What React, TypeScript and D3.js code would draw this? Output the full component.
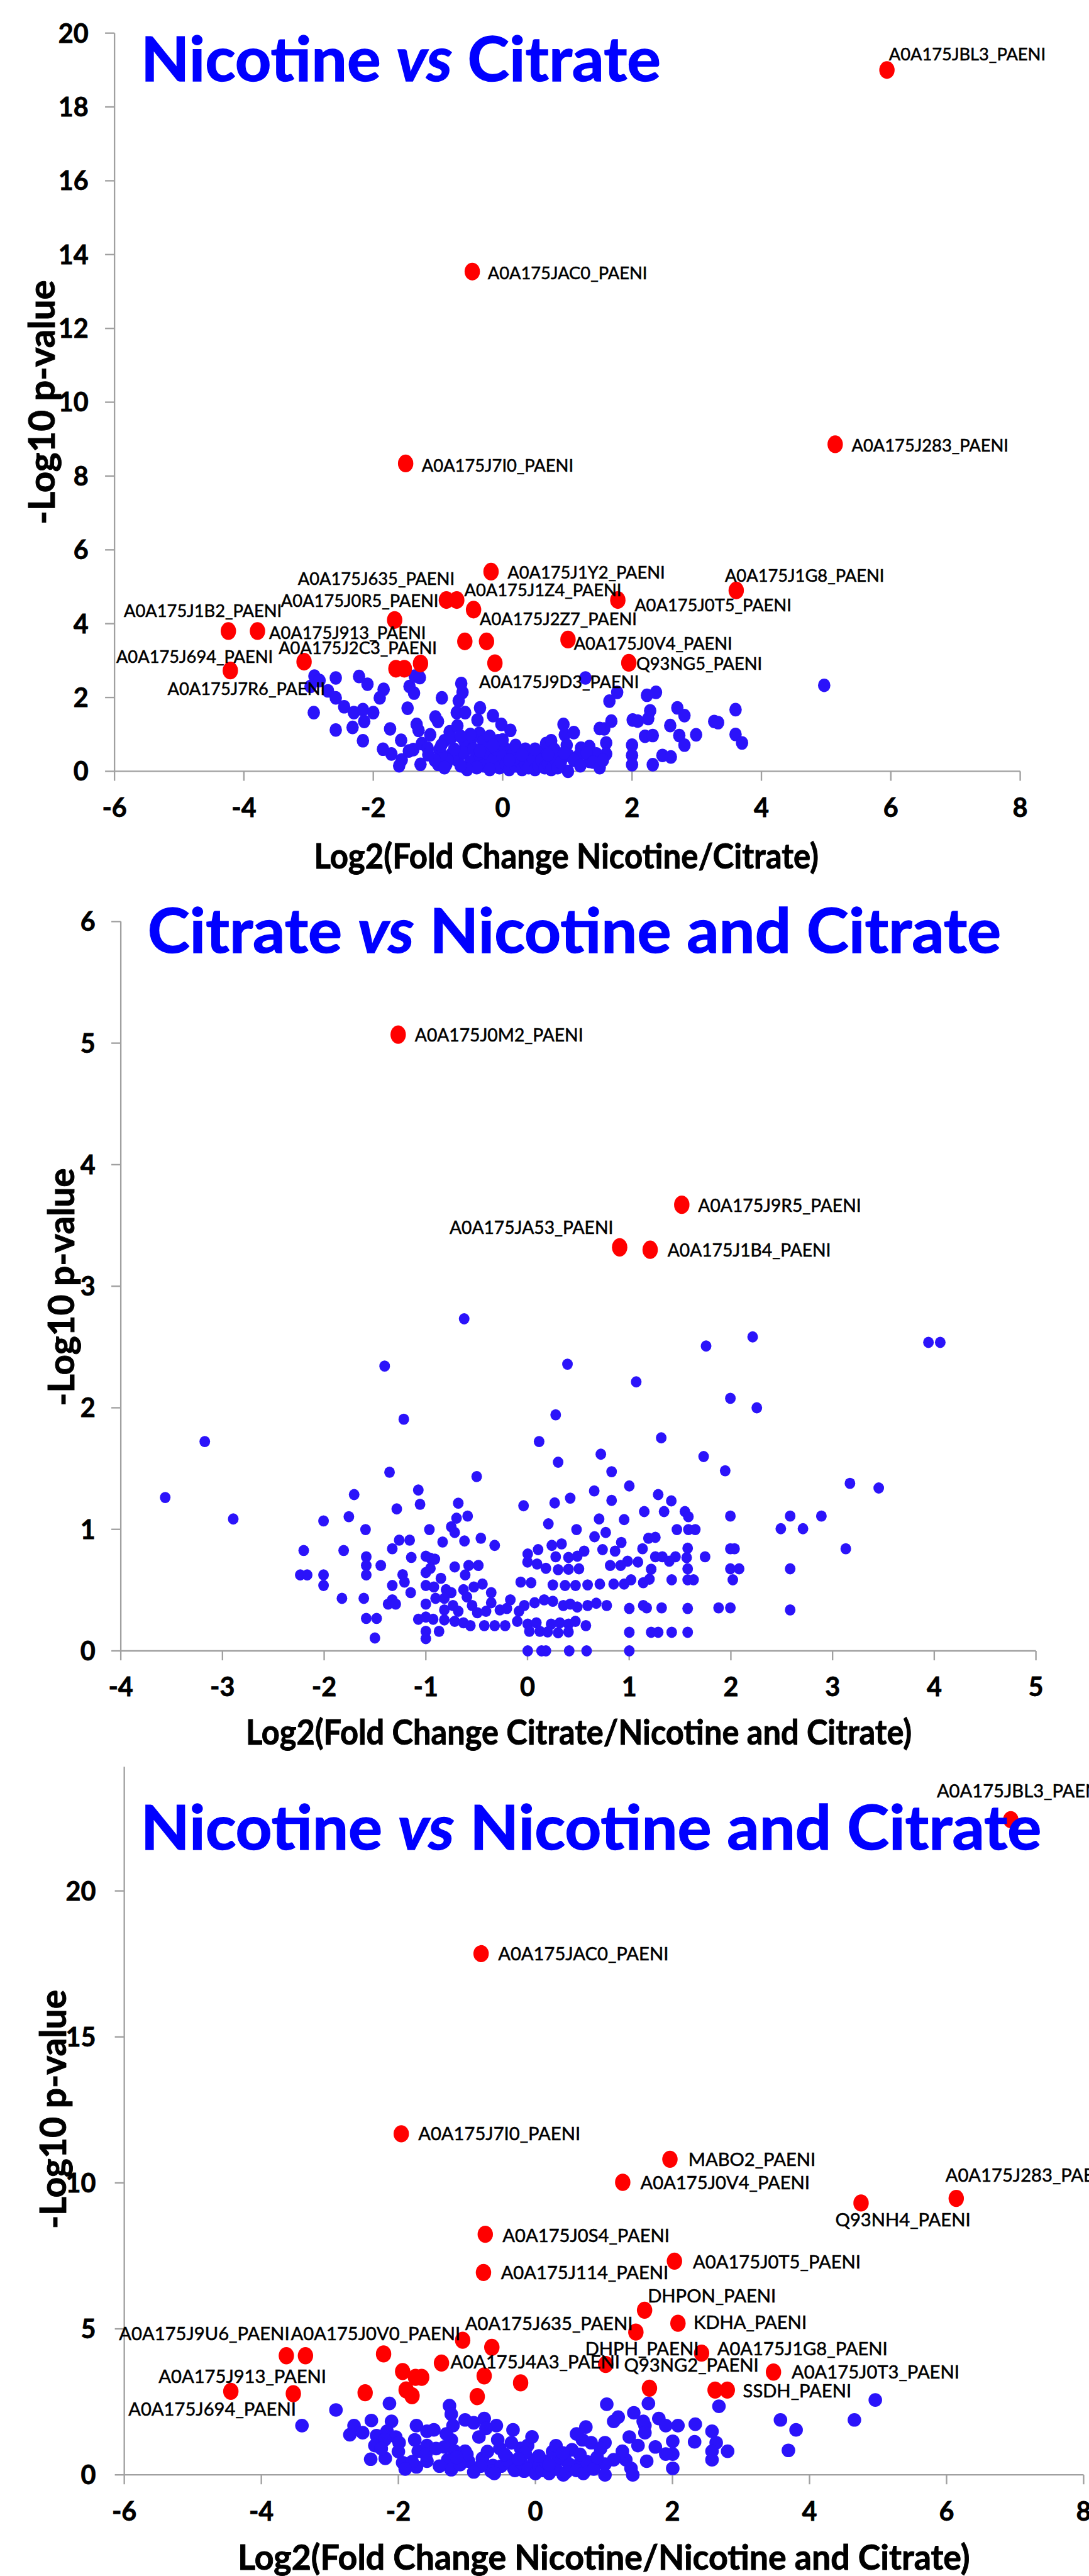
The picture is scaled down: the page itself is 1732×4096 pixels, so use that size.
import React from 'react';
import * as d3 from 'd3';

type Pt = [number, number];
type Lab = [string, number, number];

// ---------- Panel 1: Nicotine vs Citrate ----------
const p1XTicks = [-6, -4, -2, 0, 2, 4, 6, 8];
const p1YTicks = [0, 2, 4, 6, 8, 10, 12, 14, 16, 18, 20];

const p1Blue: Pt[] = [
  [-2.91, 2.58], [-2.83, 2.46], [-2.97, 2.3], [-2.7, 2.18], [-2.58, 2.53], [-2.58, 1.99], [-2.45, 1.75],
  [-2.92, 1.59], [-2.58, 1.12], [-2.22, 2.57], [-2.09, 2.36], [-1.84, 2.22], [-1.9, 1.99], [-2.3, 1.59],
  [-2.16, 1.67], [-2.0, 1.59], [-2.14, 1.35], [-2.32, 1.19], [-2.16, 0.83], [-1.74, 1.15], [-1.72, 0.47],
  [-1.57, 0.84], [-1.56, 0.31], [-1.47, 1.71], [-1.44, 2.3], [-1.37, 2.12], [-1.36, 2.58], [-1.28, 2.54],
  [-1.33, 1.27], [-1.3, 1.11], [-1.27, 0.19], [-1.38, 0.59], [-1.25, 0.75], [-1.12, 0.99], [-1.16, 0.63],
  [-1.04, 1.47], [-1.0, 1.35], [-0.94, 1.99], [-0.98, 0.59], [-1.0, 0.19], [-0.87, 0.19], [-0.9, 0.83],
  [-0.82, 1.07], [-0.71, 1.59], [-0.68, 1.91], [-0.64, 2.38], [-0.62, 2.14], [-0.58, 1.59], [-0.7, 1.23],
  [-0.58, 0.67], [-0.58, 0.11], [-0.74, 0.43], [-0.35, 1.72], [-0.39, 1.39], [-0.36, 1.03], [-0.47, 0.91],
  [-0.28, 0.75], [-0.42, 0.35], [-0.2, 0.51], [-0.15, 1.51], [-0.02, 1.27], [0.12, 1.11], [-0.07, 0.83],
  [0.06, 0.59], [0.04, 0.35], [0.28, 0.55], [0.39, 0.35], [0.52, 0.27], [0.6, 0.51], [0.67, 0.75],
  [-0.1, 0.23], [0.17, 0.27], [-0.26, 0.27],
  [1.28, 2.53], [1.77, 2.14], [1.65, 1.9], [2.23, 2.06], [2.37, 2.14], [4.97, 2.33], [2.7, 1.72],
  [2.81, 1.51], [2.28, 1.64], [2.25, 1.43], [3.6, 1.67], [2.01, 1.39], [2.09, 1.36], [1.68, 1.36],
  [1.57, 1.15], [1.5, 1.16], [2.59, 1.24], [3.27, 1.35], [3.33, 1.32], [2.99, 0.99], [3.6, 1.0],
  [3.7, 0.77], [2.73, 0.97], [2.81, 0.71], [2.2, 0.95], [2.32, 0.97], [2.0, 0.71], [2.0, 0.43],
  [2.0, 0.18], [2.47, 0.43], [2.6, 0.39], [2.32, 0.18], [1.6, 0.77], [1.6, 0.47], [1.34, 0.67],
  [1.21, 0.63], [1.34, 0.27], [1.18, 0.43], [1.45, 0.47], [0.94, 1.27], [0.96, 0.99], [1.1, 1.05],
  [0.99, 0.71], [0.75, 0.83], [0.8, 0.59], [1.02, 0.43], [1.01, 0.0], [0.8, 0.23], [0.67, 0.43], [0.88, 0.15],
  [-0.8, 0.45], [-0.7, 0.3], [-0.6, 0.5], [-0.5, 0.25], [-0.45, 0.6], [-0.35, 0.4], [-0.3, 0.15], [-0.25, 0.5],
  [-0.15, 0.3], [-0.1, 0.6], [-0.05, 0.1], [0.0, 0.4], [0.05, 0.2], [0.1, 0.05], [0.15, 0.45], [0.2, 0.15],
  [0.25, 0.3], [0.3, 0.05], [0.35, 0.2], [0.4, 0.1], [0.45, 0.4], [0.5, 0.05], [0.55, 0.15], [0.6, 0.3],
  [0.65, 0.1], [0.7, 0.2], [0.75, 0.05], [0.8, 0.35], [0.85, 0.1], [0.9, 0.25], [-0.2, 0.05], [-0.4, 0.1],
  [-0.55, 0.05], [-0.65, 0.15], [-0.75, 0.6], [-0.85, 0.3], [-0.95, 0.45], [-1.05, 0.3], [-0.9, 0.1],
  [1.1, 0.3], [1.2, 0.15], [1.3, 0.5], [1.4, 0.25], [1.5, 0.1], [1.55, 0.3], [-0.3, 0.8], [-0.2, 0.95],
  [0.0, 0.85], [0.2, 0.7], [0.35, 0.6], [-0.6, 0.85], [-0.5, 1.0], [-0.8, 0.9],
  [-0.95, 0.7], [-0.65, 0.95], [-0.35, 0.55], [-0.15, 0.7], [0.1, 0.3], [0.3, 0.45], [0.5, 0.6],
  [0.7, 0.45], [0.95, 0.5], [-1.15, 0.45], [-1.45, 0.55], [-1.6, 0.15], [-1.85, 0.6],
];

const p1Red: Pt[] = [
  [5.94, 19.0], [-0.47, 13.54], [5.14, 8.86], [-1.5, 8.34], [-0.18, 5.41], [3.61, 4.9], [-0.87, 4.64],
  [-0.71, 4.64], [1.78, 4.64], [-0.45, 4.38], [-1.67, 4.1], [-4.24, 3.8], [-3.79, 3.8], [-0.585, 3.52],
  [-0.25, 3.52], [1.01, 3.57], [-3.07, 2.97], [-4.21, 2.73], [-1.65, 2.78], [-1.52, 2.78], [-1.27, 2.92],
  [-0.12, 2.93], [1.95, 2.94],
];

const p1Labels: Lab[] = [
  ['A0A175JBL3_PAENI', 5.97, 19.27], ['A0A175JAC0_PAENI', -0.231, 13.33], ['A0A175J283_PAENI', 5.395, 8.66],
  ['A0A175J7I0_PAENI', -1.25, 8.125], ['A0A175J1Y2_PAENI', 0.075, 5.215], ['A0A175J1G8_PAENI', 3.435, 5.135],
  ['A0A175J635_PAENI', -3.166, 5.055], ['A0A175J1Z4_PAENI', -0.592, 4.736], ['A0A175J0R5_PAENI', -3.427, 4.457],
  ['A0A175J0T5_PAENI', 2.038, 4.343], ['A0A175J1B2_PAENI', -5.855, 4.178], ['A0A175J2Z7_PAENI', -0.354, 3.96],
  ['A0A175J913_PAENI', -3.61, 3.58], ['A0A175J0V4_PAENI', 1.1, 3.3], ['A0A175J2C3_PAENI', -3.463, 3.18],
  ['A0A175J694_PAENI', -5.973, 2.942], ['Q93NG5_PAENI', 2.065, 2.744], ['A0A175J9D3_PAENI', -0.364, 2.264],
  ['A0A175J7R6_PAENI', -5.18, 2.067],
];

// ---------- Panel 2: Citrate vs Nicotine and Citrate ----------
const p2XTicks = [-4, -3, -2, -1, 0, 1, 2, 3, 4, 5];
const p2YTicks = [0, 1, 2, 3, 4, 5, 6];

const p2Blue: Pt[] = [
  [-0.623, 2.732], [-1.405, 2.343], [-1.217, 1.906], [-3.174, 1.722], [0.114, 1.722], [-1.357, 1.47],
  [-0.5, 1.434], [-3.563, 1.262], [-1.705, 1.286], [-1.074, 1.323], [-1.057, 1.206], [-0.681, 1.215],
  [-0.039, 1.194], [-1.286, 1.168], [-2.894, 1.085], [-1.757, 1.104], [-0.698, 1.092], [-0.589, 1.109],
  [-2.006, 1.069], [-1.593, 0.998], [-0.965, 0.998], [-0.75, 1.021], [-0.716, 0.974], [-0.459, 0.927],
  [-1.262, 0.911], [-1.159, 0.911], [-0.835, 0.896], [-0.62, 0.904], [-0.323, 0.868], [-2.201, 0.826],
  [-1.808, 0.826], [-1.33, 0.84], [0.104, 0.833], [0.002, 0.797], [-1.586, 0.774], [-1.143, 0.769],
  [-1.0, 0.779], [-0.955, 0.762], [-0.911, 0.755], [-1.443, 0.703], [-0.716, 0.691], [-0.579, 0.703],
  [-0.484, 0.703], [0.0, 0.731], [0.094, 0.715], [-1.586, 0.703], [-0.955, 0.679], [-1.0, 0.644],
  [-1.586, 0.625], [-2.235, 0.625], [-2.167, 0.625], [-2.006, 0.625], [-1.228, 0.627], [-0.613, 0.625],
  [-0.852, 0.597], [-1.21, 0.566], [-2.006, 0.538], [-1.33, 0.538], [-1.0, 0.538], [-0.921, 0.526],
  [-0.801, 0.503], [-0.63, 0.503], [-0.528, 0.526], [-0.443, 0.55], [-0.067, 0.566], [0.035, 0.561],
  [-1.149, 0.479], [-0.75, 0.479], [-1.825, 0.432], [-1.61, 0.432], [-0.904, 0.432], [-0.818, 0.432],
  [-0.596, 0.444], [-0.357, 0.479], [-0.169, 0.42], [-0.357, 0.396], [-1.371, 0.385], [-1.33, 0.42],
  [-1.296, 0.385], [-1.0, 0.385], [-0.818, 0.337], [-0.733, 0.373], [-0.681, 0.326], [-0.545, 0.373],
  [-0.494, 0.314], [-0.408, 0.326], [-0.272, 0.337], [-0.203, 0.349], [-0.084, 0.326], [-0.032, 0.373],
  [0.07, 0.396], [-1.586, 0.267], [-1.484, 0.267], [-1.074, 0.26], [-1.0, 0.278], [-0.928, 0.26],
  [-0.818, 0.255], [-0.716, 0.243], [-0.63, 0.231], [-0.562, 0.208], [-0.425, 0.208], [-0.323, 0.208],
  [-0.22, 0.208], [-0.101, 0.243], [0.002, 0.22], [0.087, 0.231], [-1.0, 0.161], [-0.87, 0.161],
  [-1.501, 0.106], [-1.0, 0.101], [0.002, 0.0], [0.138, 0.0], [0.018, 0.161], [0.121, 0.161],
  [2.214, 2.583], [1.756, 2.508], [3.943, 2.538], [4.059, 2.538], [0.393, 2.359], [1.069, 2.213],
  [1.995, 2.078], [2.255, 2.0], [0.277, 1.942], [1.315, 1.753], [0.721, 1.618], [1.732, 1.599],
  [0.301, 1.552], [0.827, 1.474], [1.944, 1.482], [3.171, 1.378], [3.454, 1.34], [1.001, 1.357],
  [0.656, 1.316], [1.285, 1.286], [0.42, 1.257], [0.827, 1.238], [0.267, 1.217], [1.414, 1.234],
  [1.148, 1.146], [1.343, 1.146], [1.548, 1.146], [1.582, 1.104], [1.995, 1.109], [2.583, 1.109],
  [2.89, 1.109], [0.704, 1.085], [0.95, 1.08], [0.205, 1.045], [0.482, 0.998], [1.469, 0.998],
  [1.582, 0.998], [1.65, 0.998], [2.491, 1.005], [2.709, 1.005], [0.769, 0.974], [0.659, 0.939],
  [1.189, 0.927], [1.257, 0.934], [0.922, 0.892], [0.239, 0.868], [0.335, 0.88], [0.557, 0.821],
  [0.738, 0.833], [0.861, 0.821], [1.131, 0.84], [1.575, 0.845], [1.995, 0.84], [2.036, 0.84],
  [3.13, 0.84], [0.277, 0.774], [0.403, 0.769], [0.489, 0.779], [1.257, 0.774], [1.326, 0.774],
  [1.455, 0.774], [1.565, 0.767], [1.746, 0.774], [0.984, 0.738], [1.086, 0.731], [1.394, 0.738],
  [0.813, 0.703], [0.916, 0.703], [0.181, 0.679], [0.301, 0.668], [0.403, 0.672], [0.506, 0.675],
  [1.216, 0.672], [1.575, 0.675], [1.995, 0.675], [2.081, 0.675], [2.583, 0.675], [0.249, 0.543],
  [0.369, 0.538], [0.472, 0.538], [0.591, 0.543], [0.711, 0.55], [0.847, 0.55], [0.95, 0.55],
  [1.018, 0.585], [1.138, 0.561], [1.199, 0.59], [1.418, 0.585], [1.575, 0.585], [1.633, 0.585],
  [2.019, 0.585], [0.164, 0.42], [0.249, 0.408], [0.352, 0.373], [0.42, 0.385], [0.489, 0.361],
  [0.591, 0.373], [0.676, 0.392], [0.779, 0.373], [1.001, 0.349], [1.138, 0.373], [1.172, 0.354],
  [1.319, 0.354], [1.575, 0.349], [1.879, 0.354], [1.995, 0.354], [2.583, 0.337], [0.232, 0.22],
  [0.318, 0.231], [0.403, 0.22], [0.471, 0.243], [0.574, 0.208], [0.198, 0.156], [0.301, 0.149],
  [0.403, 0.156], [1.001, 0.153], [1.216, 0.153], [1.285, 0.153], [1.418, 0.153], [1.575, 0.153],
  [0.181, 0.0], [0.41, 0.0], [0.581, 0.0], [1.001, 0.0],
];

const p2Red: Pt[] = [[-1.272, 5.07], [1.517, 3.67], [0.906, 3.32], [1.206, 3.3]];

const p2Labels: Lab[] = [
  ['A0A175J0M2_PAENI', -1.108, 5.013], ['A0A175J9R5_PAENI', 1.678, 3.612],
  ['A0A175JA53_PAENI', -0.767, 3.43], ['A0A175J1B4_PAENI', 1.377, 3.245],
];

// ---------- Panel 3: Nicotine vs Nicotine and Citrate ----------
const p3XTicks = [-6, -4, -2, 0, 2, 4, 6, 8];
const p3YTicks = [0, 5, 10, 15, 20];

const p3Blue: Pt[] = [
  [-2.13, 2.447], [-2.911, 2.223], [-1.254, 2.369], [-3.407, 1.687], [-2.1, 1.833], [-2.394, 1.862],
  [-2.647, 1.687], [-2.708, 1.375], [-2.521, 1.443], [-2.318, 1.345], [-2.166, 1.492], [-2.039, 1.297],
  [-1.989, 1.102], [-2.343, 1.004], [-2.404, 0.536], [-2.191, 0.565], [-1.938, 0.419], [-1.736, 1.687],
  [-1.761, 1.199], [-1.583, 1.492], [-1.482, 1.541], [-1.71, 0.809], [-1.583, 1.004], [-1.583, 0.468],
  [-1.736, 0.273], [-1.228, 2.077], [-1.203, 1.687], [-1.026, 1.882], [-0.9, 1.784], [-0.747, 1.93],
  [-0.57, 1.687], [-0.327, 1.541], [-1.228, 1.199], [-1.33, 0.956], [-1.178, 0.809], [-1.28, 0.517],
  [-1.228, 0.175], [-1.026, 0.809], [-0.976, 0.468], [-0.824, 1.297], [-0.722, 1.59], [-0.773, 0.565],
  [-0.621, 0.321], [-0.647, 0.127], [-0.52, 0.907], [-0.418, 0.614], [-0.317, 0.224], [-0.216, 0.907],
  [-0.114, 1.004], [-0.013, 0.517], [-0.165, 0.127],
  [1.041, 2.418], [1.649, 2.447], [2.678, 2.35], [4.96, 2.565], [4.655, 1.882], [3.576, 1.882],
  [3.804, 1.541], [3.692, 0.838], [2.805, 0.809], [1.208, 1.979], [1.142, 1.833], [1.436, 2.126],
  [1.573, 1.833], [1.801, 1.93], [1.902, 1.687], [2.08, 1.687], [2.333, 1.736], [2.577, 1.492],
  [2.638, 1.102], [2.577, 0.517], [2.577, 0.809], [2.323, 1.131], [2.004, 1.151], [2.004, 0.712],
  [2.004, 0.224], [1.598, 1.687], [1.598, 1.443], [1.37, 1.297], [1.497, 1.004], [1.75, 0.956],
  [1.902, 0.712], [1.624, 0.468], [1.395, 0.224], [1.421, 0.0], [1.319, 0.517], [0.736, 1.638],
  [0.686, 1.199], [0.812, 1.102], [1.015, 1.102], [1.269, 0.809], [1.142, 0.517], [1.015, 0.37],
  [1.015, 0.0], [0.534, 0.858], [0.432, 0.517], [0.61, 0.321], [0.787, 0.224], [0.888, 0.517],
  [0.407, 0.0], [0.28, 0.37], [0.229, 0.175], [0.128, 0.468],
  [-0.5, 0.3], [-0.4, 0.5], [-0.3, 0.15], [-0.2, 0.4], [-0.1, 0.2], [0.0, 0.05], [0.05, 0.3], [0.1, 0.15],
  [0.15, 0.45], [0.2, 0.05], [0.3, 0.2], [0.35, 0.6], [0.45, 0.1], [0.5, 0.35], [0.6, 0.15], [0.7, 0.05],
  [0.75, 0.45], [0.85, 0.2], [0.9, 0.6], [-0.6, 0.05], [-0.45, 0.7], [-0.15, 0.75], [0.05, 0.65],
  [0.25, 0.8], [-0.8, 0.3], [-0.9, 0.1], [-1.0, 0.7], [-1.1, 0.35], [-1.4, 0.3], [-1.6, 0.7],
  [-1.8, 0.45], [-2.0, 0.8], [-2.2, 1.2], [-1.3, 1.4], [-0.35, 1.1], [-0.05, 1.3], [0.3, 1.0],
  [0.6, 1.4], [0.95, 0.9], [-0.55, 1.2], [-0.25, 0.55], [0.2, 0.35], [0.4, 0.75], [0.65, 0.7],
  [-1.15, 0.6], [-1.45, 0.9], [-1.9, 0.2], [-2.25, 0.9], [-0.7, 0.8],
];

const p3Red: Pt[] = [
  [6.937, 22.44], [-0.793, 17.85], [-1.958, 11.68], [1.963, 10.81], [1.274, 10.02], [6.141, 9.47],
  [4.752, 9.31], [-0.732, 8.24], [2.029, 7.32], [-0.758, 6.93], [1.593, 5.64], [2.08, 5.19], [1.466, 4.89],
  [2.425, 4.17], [1.025, 3.78], [1.664, 2.97], [3.474, 3.52], [2.622, 2.905], [2.8, 2.905], [-1.062, 4.61],
  [-0.636, 4.37], [-2.216, 4.14], [-3.635, 4.08], [-3.356, 4.08], [-1.371, 3.83], [-1.938, 3.54],
  [-1.75, 3.34], [-1.66, 3.34], [-0.748, 3.39], [-0.216, 3.15], [-4.445, 2.86], [-3.533, 2.78],
  [-2.485, 2.81], [-1.887, 2.91], [-1.801, 2.71], [-0.849, 2.68],
];

const p3Labels: Lab[] = [
  ['A0A175JBL3_PAENI', 5.857, 23.21], ['A0A175JAC0_PAENI', -0.545, 17.62], ['A0A175J7I0_PAENI', -1.71, 11.46],
  ['MABO2_PAENI', 2.232, 10.57], ['A0A175J0V4_PAENI', 1.532, 9.781], ['A0A175J283_PAENI', 5.984, 10.044],
  ['Q93NH4_PAENI', 4.377, 8.513], ['A0A175J0S4_PAENI', -0.479, 7.977], ['A0A175J0T5_PAENI', 2.298, 7.07],
  ['A0A175J114_PAENI', -0.504, 6.709], ['DHPON_PAENI', 1.639, 5.9], ['KDHA_PAENI', 2.308, 5.002],
  ['A0A175J635_PAENI', -1.026, 4.954], ['A0A175J9U6_PAENI', -6.076, 4.612], ['A0A175J0V0_PAENI', -3.569, 4.612],
  ['DHPH_PAENI', 0.726, 4.105], ['A0A175J1G8_PAENI', 2.653, 4.105], ['A0A175J4A3_PAENI', -1.239, 3.637],
  ['Q93NG2_PAENI', 1.294, 3.54], ['A0A175J0T3_PAENI', 3.738, 3.296], ['A0A175J913_PAENI', -5.499, 3.149],
  ['SSDH_PAENI', 3.028, 2.662], ['A0A175J694_PAENI', -5.94, 2.028],
];

const BLUE = '#2B13FA';
const RED = '#FF0000';
const AXIS = '#A0A0A0';
const FONT = "Lato, 'Open Sans', sans-serif";

type PanelProps = {
  title: [string, string];
  titleX: number; titleY: number; titleLen: number;
  xTitle: string; xTitleX: number; xTitleY: number; xTitleLen: number;
  yTitleX: number; yTitleY: number; yTitleLen: number;
  xDom: [number, number]; yDom: [number, number];
  xRange: [number, number]; yRange: [number, number];
  xTicks: number[]; yTicks: number[];
  tickGap: number;
  blue: Pt[]; red: Pt[]; labels: Lab[];
  blueR: [number, number]; redR: [number, number];
  labelSize: number;
};

function Panel(p: PanelProps) {
  const x = d3.scaleLinear().domain(p.xDom).range(p.xRange);
  const y = d3.scaleLinear().domain(p.yDom).range(p.yRange);
  const ax = x(p.xDom[0]);
  const ay = y(0);
  return (
    <g>
      {/* axes */}
      <line x1={ax} x2={ax} y1={y(p.yDom[1])} y2={ay} stroke={AXIS} strokeWidth={2.5} />
      <line x1={ax} x2={x(p.xDom[1])} y1={ay} y2={ay} stroke={AXIS} strokeWidth={2.5} />
      {p.yTicks.map(t => (
        <g key={'yt' + t}>
          <line x1={ax - 16} x2={ax} y1={y(t)} y2={y(t)} stroke={AXIS} strokeWidth={2.5} />
          <text x={ax - p.tickGap} y={y(t)} dy="0.36em" textAnchor="end" fontSize={44}
            fontWeight="bold" fontFamily={FONT} fill="#000" stroke="#000" strokeWidth={0.8}>{t}</text>
        </g>
      ))}
      {p.xTicks.map(t => (
        <g key={'xt' + t}>
          <line x1={x(t)} x2={x(t)} y1={ay} y2={ay + 16} stroke={AXIS} strokeWidth={2.5} />
          <text x={x(t)} y={ay + 77} textAnchor="middle" fontSize={44}
            fontWeight="bold" fontFamily={FONT} fill="#000" stroke="#000" strokeWidth={0.8}>{t}</text>
        </g>
      ))}
      {/* points */}
      {p.blue.map((d, i) => (
        <ellipse key={'b' + i} cx={x(d[0])} cy={y(d[1])} rx={p.blueR[0]} ry={p.blueR[1]} fill={BLUE} />
      ))}
      {p.red.map((d, i) => (
        <ellipse key={'r' + i} cx={x(d[0])} cy={y(d[1])} rx={p.redR[0]} ry={p.redR[1]} fill={RED} />
      ))}
      {p.labels.map((d, i) => (
        <text key={'l' + i} x={x(d[1])} y={y(d[2])} fontSize={p.labelSize} fontFamily={FONT}
          fill="#000" stroke="#000" strokeWidth={0.6}>{d[0]}</text>
      ))}
      {/* titles */}
      <text x={p.titleX} y={p.titleY} fontSize={104} fontWeight="bold" fontFamily={FONT} fill="#0000FF"
        stroke="#0000FF" strokeWidth={1.5} textLength={p.titleLen} lengthAdjust="spacingAndGlyphs">
        {p.title[0]}<tspan fontStyle="italic">vs</tspan>{p.title[1]}
      </text>
      <text x={p.xTitleX} y={p.xTitleY} textAnchor="middle" fontSize={58} fontWeight="bold" fontFamily={FONT}
        fill="#000" stroke="#000" strokeWidth={1} textLength={p.xTitleLen}
        lengthAdjust="spacingAndGlyphs">{p.xTitle}</text>
      <text transform={`translate(${p.yTitleX},${p.yTitleY}) rotate(-90)`} textAnchor="middle" fontSize={60}
        fontWeight="bold" fontFamily={FONT} fill="#000" stroke="#000" strokeWidth={1}
        textLength={p.yTitleLen} lengthAdjust="spacingAndGlyphs">-Log10 p-value</text>
    </g>
  );
}

export default function App() {
  return (
    <svg width={1732} height={4096} viewBox="0 0 1841 4355" preserveAspectRatio="none"
      style={{ position: 'absolute', left: 0, top: 0, background: '#fff' }}>
      <rect x={0} y={0} width={1841} height={4355} fill="#fff" />
      <Panel
        title={['Nicotine ', ' Citrate']} titleX={238} titleY={137.5} titleLen={879}
        xTitle="Log2(Fold Change Nicotine/Citrate)" xTitleX={957.5} xTitleY={1468} xTitleLen={853}
        yTitleX={92} yTitleY={680} yTitleLen={413}
        xDom={[-6, 8]} yDom={[0, 20]} xRange={[193.6, 1724.7]} yRange={[1304, 56]}
        xTicks={p1XTicks} yTicks={p1YTicks} tickGap={44}
        blue={p1Blue} red={p1Red} labels={p1Labels}
        blueR={[10.5, 11.5]} redR={[13, 15]} labelSize={29}
      />
      <Panel
        title={['Citrate ', ' Nicotine and Citrate']} titleX={249.4} titleY={1611} titleLen={1443}
        xTitle="Log2(Fold Change Citrate/Nicotine and Citrate)" xTitleX={978.5} xTitleY={2949.5} xTitleLen={1126}
        yTitleX={125} yTitleY={2176} yTitleLen={402}
        xDom={[-4, 5]} yDom={[0, 6]} xRange={[204.2, 1751.3]} yRange={[2791, 1558]}
        xTicks={p2XTicks} yTicks={p2YTicks} tickGap={43}
        blue={p2Blue} red={p2Red} labels={p2Labels}
        blueR={[9, 9.5]} redR={[13, 15.5]} labelSize={30}
      />
      <Panel
        title={['Nicotine ', ' Nicotine and Citrate']} titleX={237.7} titleY={3127.3} titleLen={1523}
        xTitle="Log2(Fold Change Nicotine/Nicotine and Citrate)" xTitleX={1020.8} xTitleY={4344} xTitleLen={1237.5}
        yTitleX={112} yTitleY={3566} yTitleLen={404}
        xDom={[-6, 8]} yDom={[0, 24.25]} xRange={[210.1, 1831.9]} yRange={[4184, 2987]}
        xTicks={p3XTicks} yTicks={p3YTicks} tickGap={48}
        blue={p3Blue} red={p3Red} labels={p3Labels}
        blueR={[11.5, 11.5]} redR={[13, 14.5]} labelSize={31}
      />
    </svg>
  );
}
